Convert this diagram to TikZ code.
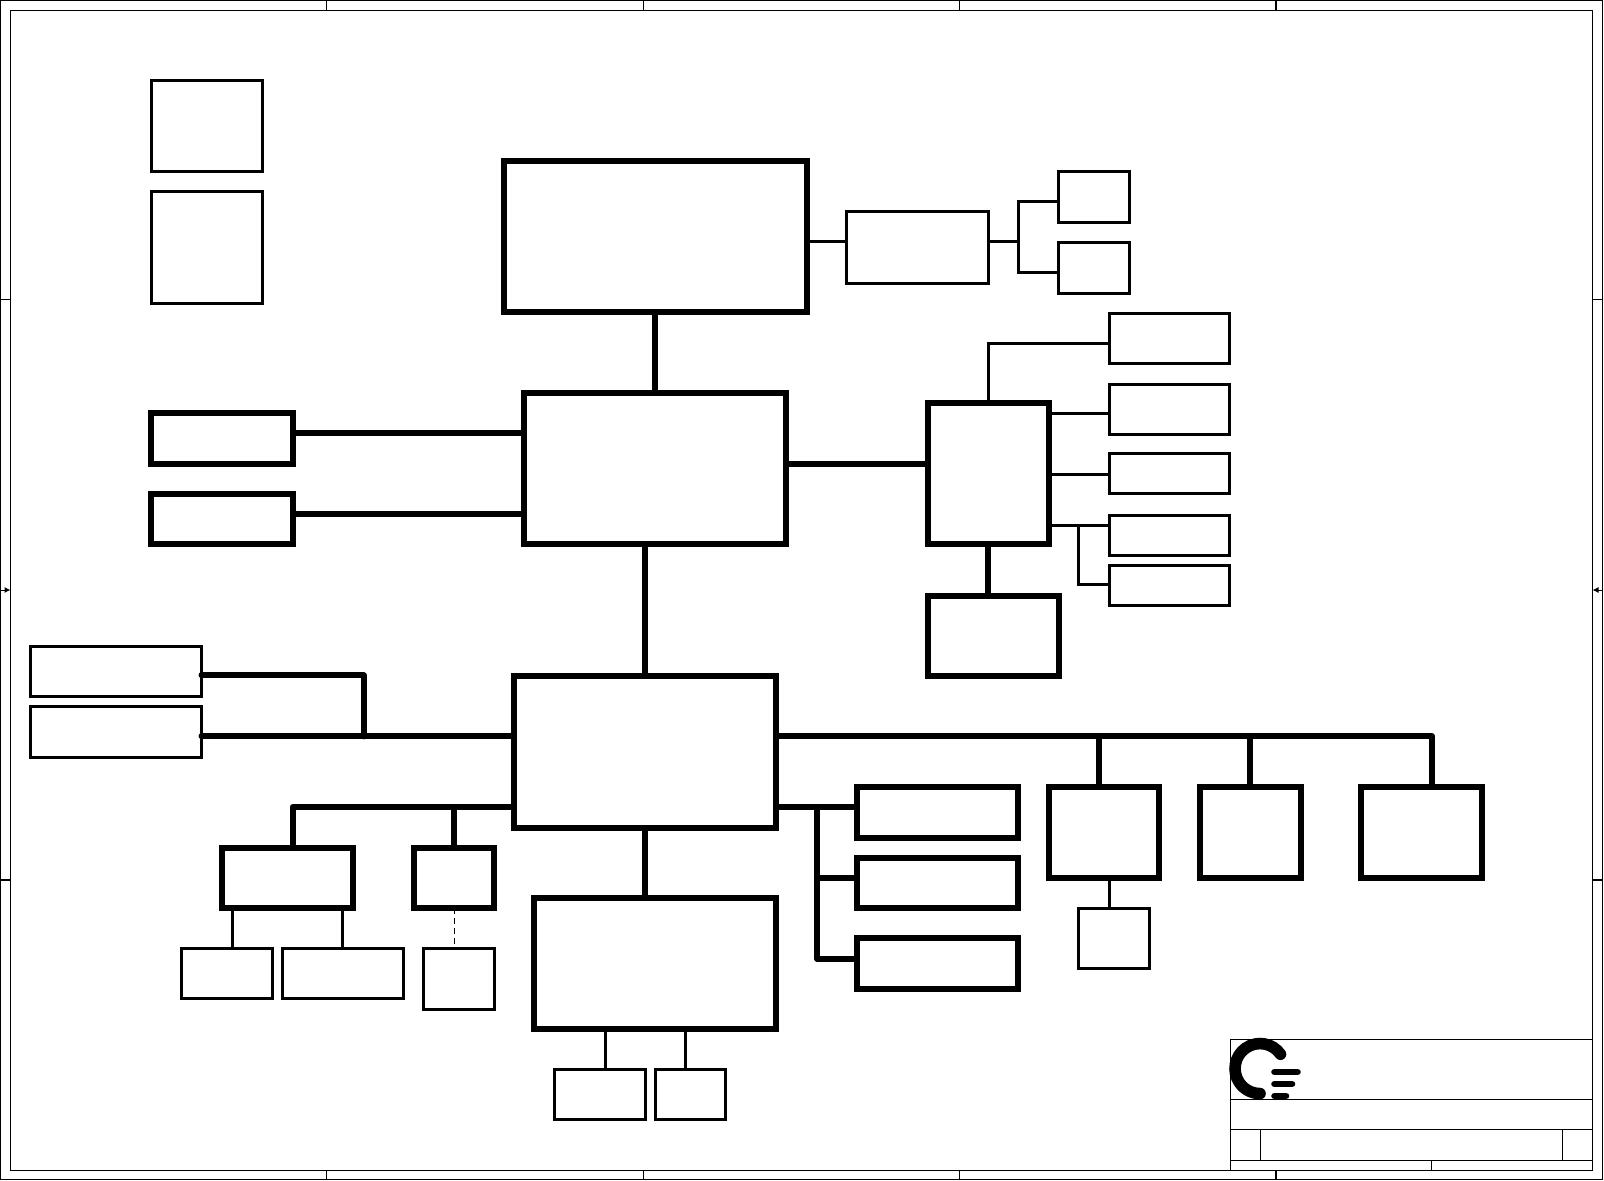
\documentclass[tikz,border=0pt]{standalone}
\usetikzlibrary{arrows.meta}
\tikzset{
  x=0.5pt,y=-0.5pt,
  framebox/.style={draw=black,line width=0.7pt,inner sep=0pt,outer sep=0pt},
  thinbox/.style={draw=black,line width=1.5pt,inner sep=0pt,outer sep=0pt},
  thickbox/.style={draw=black,line width=3pt,inner sep=0pt,outer sep=0pt},
  frameline/.style={draw=black,line width=0.7pt},
  wire/.style={draw=black,line width=1.5pt,line join=miter},
  bus/.style={draw=black,line width=3pt,line join=round},
  capbus/.style={bus,line cap=round},
  dashwire/.style={draw=black,line width=0.5pt,dash pattern=on 3pt off 2pt},
  marker/.style={draw=black,line width=0.5pt,-{Latex[length=3pt,width=3pt]}},
  logoarc/.style={draw=black,line width=5.8pt,line cap=round},
  logobar/.style={draw=black,line width=3.3pt,line cap=round},
}
% style, name, x1, y1, x2, y2 (centre lines, in reference pixels)
\newcommand\bx[6]{\node[#1,minimum width={(#5-#3)*0.5pt},minimum height={(#6-#4)*0.5pt}] (#2) at ({(#3+#5)/2},{(#4+#6)/2}) {};}
\begin{document}
\begin{tikzpicture}
\useasboundingbox (0,0) rectangle (1604,1180);
% sheet frame
\bx{framebox}{outer}{0.5}{0.5}{1602.5}{1179.5}
\bx{framebox}{inner}{10.5}{10.5}{1592.5}{1170.2}
\foreach \tx in {326.5,643.5,959.5,1276}{
  \draw[frameline] (\tx,0 |- outer.north) -- (\tx,0 |- inner.north);
  \draw[frameline] (\tx,0 |- inner.south) -- (\tx,0 |- outer.south);
}
\foreach \ty in {299.5,879.8}{
  \draw[frameline] (outer.west |- 0,\ty) -- (inner.west |- 0,\ty);
  \draw[frameline] (inner.east |- 0,\ty) -- (outer.east |- 0,\ty);
}
\draw[marker] (outer.west |- 0,590) -- (inner.west |- 0,590);
\draw[marker] (outer.east |- 0,590) -- (inner.east |- 0,590);
% title block
\bx{framebox}{title}{1230.3}{1039.5}{1592.5}{1170.2}
\coordinate (t1) at (0,1099.5);
\coordinate (t2) at (0,1129.5);
\coordinate (t3) at (0,1160.5);
\draw[frameline] (title.west |- t1) -- (title.east |- t1);
\draw[frameline] (title.west |- t2) -- (title.east |- t2);
\draw[frameline] (title.west |- t3) -- (title.east |- t3);
\draw[frameline] (1260.3,0 |- t2) -- (1260.3,0 |- t3);
\draw[frameline] (1562.3,0 |- t2) -- (1562.3,0 |- t3);
\draw[frameline] (1431.3,0 |- t3) -- (1431.3,0 |- title.south);
% logo
\draw[logoarc] (1280.5,1054.2) arc[start angle=35,end angle=270,radius=12.5pt];
\draw[logobar] (1274.5,1072) -- (1297.5,1072);
\draw[logobar] (1274.5,1084) -- (1292,1084);
\draw[logobar] (1274.5,1096) -- (1286,1096);
% stand-alone boxes, top left
\bx{thinbox}{tl1}{151.3}{80.3}{262.7}{171.3}
\bx{thinbox}{tl2}{151.3}{191.5}{262.7}{303}
% main column
\bx{thickbox}{cpu}{504}{161}{807}{312}
\bx{thickbox}{gmch}{524}{393}{786}{544}
\bx{thickbox}{ich}{514}{676}{776}{828}
\bx{thickbox}{low}{534}{898}{776}{1029}
\draw[bus] (655,0 |- cpu.south) -- (655,0 |- gmch.north);
\draw[bus] (645,0 |- gmch.south) -- (645,0 |- ich.north);
\draw[bus] (645,0 |- ich.south) -- (645,0 |- low.north);
% memory
\bx{thickbox}{h1}{151}{413}{293}{464}
\bx{thickbox}{h2}{151}{494}{293}{544}
\draw[bus] (h1.east |- 0,432.7) -- (gmch.west |- 0,432.7);
\draw[bus] (h2.east |- 0,514) -- (gmch.west |- 0,514);
% upper right
\bx{thinbox}{a}{846.5}{211.5}{988.5}{283}
\bx{thinbox}{b1}{1058.8}{171.5}{1129.5}{222}
\bx{thinbox}{b2}{1058.8}{242}{1129.5}{293}
\draw[wire] (cpu.east |- 0,241.5) -- (a.west |- 0,241.5);
\draw[wire] (a.east |- 0,241.5) -- (1018.7,241.5);
\draw[wire] (b1.west |- 0,201.6) -- (1018.7,201.6) -- (1018.7,272.6) -- (b2.west |- 0,272.6);
% south-east of the north bridge
\bx{thickbox}{sb}{928}{402.5}{1049}{544}
\bx{thickbox}{d}{928}{596}{1059}{675.5}
\bx{thinbox}{c1}{1109.5}{313}{1229.5}{363}
\bx{thinbox}{c2}{1109.5}{384}{1229.5}{434}
\bx{thinbox}{c3}{1109.5}{453.5}{1229.5}{493.5}
\bx{thinbox}{c4}{1109.5}{515}{1229.5}{555}
\bx{thinbox}{c5}{1109.5}{565}{1229.5}{605}
\draw[bus] (gmch.east |- 0,464.2) -- (sb.west |- 0,464.2);
\draw[bus] (988,0 |- sb.south) -- (988,0 |- d.north);
\draw[wire] (988.4,0 |- sb.north) -- (988.4,343) -- (c1.west |- 0,343);
\draw[wire] (sb.east |- 0,413.7) -- (c2.west |- 0,413.7);
\draw[wire] (sb.east |- 0,474) -- (c3.west |- 0,474);
\draw[wire] (sb.east |- 0,525) -- (c4.west |- 0,525);
\draw[wire] (1078.4,525) -- (1078.4,584.5) -- (c5.west |- 0,584.5);
% left side of the south bridge
\bx{thinbox}{l1}{30.5}{646.5}{201.5}{696.5}
\bx{thinbox}{l2}{30.5}{706.5}{201.5}{757}
\draw[capbus] (l1.east |- 0,675.4) -- (363.5,675.4) -- (363.5,736.4);
\draw[capbus] (l2.east |- 0,736.4) -- (ich.west |- 0,736.4);
\bx{thickbox}{m1}{222}{848}{353}{908}
\bx{thickbox}{m2}{414}{848}{494}{908}
\draw[bus] (ich.west |- 0,806.7) -- (292.7,806.7) -- (292.7,0 |- m1.north);
\draw[bus] (454,806.7) -- (454,0 |- m2.north);
\bx{thinbox}{n1}{181.5}{948.5}{272.5}{998}
\bx{thinbox}{n2}{282.5}{948.5}{403.5}{998}
\bx{thinbox}{n3}{423.8}{948.5}{494.5}{1009.5}
\draw[wire] (232.7,0 |- m1.south) -- (232.7,0 |- n1.north);
\draw[wire] (342.3,0 |- m1.south) -- (342.3,0 |- n2.north);
\draw[dashwire] (454.3,0 |- m2.south) -- (454.3,0 |- n3.north);
\bx{thinbox}{q1}{554.5}{1069.5}{645.5}{1119.5}
\bx{thinbox}{q2}{655.5}{1069.5}{725.5}{1119.5}
\draw[wire] (605.7,0 |- low.south) -- (605.7,0 |- q1.north);
\draw[wire] (685.3,0 |- low.south) -- (685.3,0 |- q2.north);
% right side of the south bridge
\bx{thickbox}{r1}{857}{787}{1018}{838}
\bx{thickbox}{r2}{857}{858}{1018}{908}
\bx{thickbox}{r3}{857}{938}{1018}{989}
\draw[bus] (ich.east |- 0,806.7) -- (r1.west |- 0,806.7);
\draw[bus] (817.3,806.7) -- (817.3,959) -- (r3.west |- 0,959);
\draw[bus] (817.3,878) -- (r2.west |- 0,878);
\bx{thickbox}{s1}{1049}{787}{1159}{878}
\bx{thickbox}{s2}{1200}{787}{1301}{878}
\bx{thickbox}{s3}{1361}{787}{1482}{878}
\draw[bus] (ich.east |- 0,736.4) -- (1432,736.4) -- (1432,0 |- s3.north);
\draw[bus] (1099,736.4) -- (1099,0 |- s1.north);
\draw[bus] (1250,736.4) -- (1250,0 |- s2.north);
\bx{thinbox}{tb}{1078.5}{908.5}{1149.5}{968.5}
\draw[wire] (1109.7,0 |- s1.south) -- (1109.7,0 |- tb.north);
\end{tikzpicture}
\end{document}
